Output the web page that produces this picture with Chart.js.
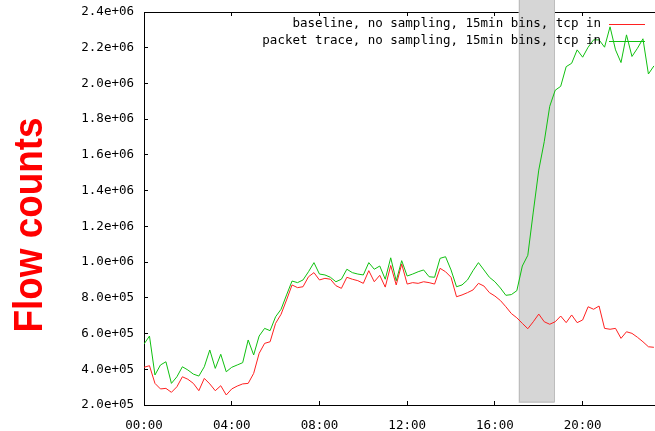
<!DOCTYPE html>
<html>
<head>
<meta charset="utf-8">
<script src="https://cdn.jsdelivr.net/npm/chart.js@4/dist/chart.umd.min.js"></script>
<style>
  html, body { margin: 0; padding: 0; background: #fff; }
  #flowChart { display: block; }
</style>
</head>
<body>
<canvas id="flowChart" width="655" height="431"></canvas>
<script>
// 15 minute bins, hour 0 = 00:00
const binHours = 0.25;

const baseline = [
  411, 420, 321, 290, 293, 271, 302, 358, 344, 321, 280, 349, 318, 280, 308, 256,
  290, 306, 318, 321, 377, 489, 545, 554, 657, 708, 788, 872, 857, 862, 918, 941,
  900, 909, 904, 868, 853, 915, 904, 896, 881, 952, 890, 926, 860, 981, 872, 989,
  877, 885, 881, 890, 885, 877, 965, 946, 915, 806, 816, 829, 844, 881, 866, 829,
  810, 785, 750, 712, 688, 657, 627, 666, 709, 666, 652, 666, 698, 661, 704, 661,
  676, 750, 736, 754, 629, 624, 629, 573, 610, 601, 579, 554, 526, 523
];

const packetTrace = [
  541, 586, 368, 424, 442, 321, 358, 414, 396, 373, 362, 414, 508, 405, 484, 386,
  411, 424, 437, 564, 480, 586, 629, 616, 694, 736, 816, 894, 885, 900, 946, 997,
  933, 928, 915, 890, 904, 960, 941, 933, 928, 997, 960, 978, 904, 1024, 895, 1008,
  922, 933, 946, 956, 918, 915, 1021, 1030, 956, 862, 872, 900, 952, 997, 956, 915,
  890, 855, 814, 818, 840, 978, 1038, 1280, 1515, 1674, 1872, 1962, 1984, 2094, 2113, 2188,
  2147, 2203, 2244, 2244, 2203, 2317, 2188, 2117, 2272, 2151, 2197, 2250, 2053, 2098
];

const seriesLabels = [
  'baseline, no sampling, 15min bins, tcp in',
  'packet trace, no sampling, 15min bins, tcp in'
];
const seriesColors = ['#ff2020', '#10c010'];

const xTickValues = [0, 4, 8, 12, 16, 20];
const xTickLabels = ['00:00', '04:00', '08:00', '12:00', '16:00', '20:00'];
const yTickValues = [200000, 400000, 600000, 800000, 1000000, 1200000,
  1400000, 1600000, 1800000, 2000000, 2200000, 2400000];
const yTickLabels = ['2.0e+05', '4.0e+05', '6.0e+05', '8.0e+05', '1.0e+06', '1.2e+06',
  '1.4e+06', '1.6e+06', '1.8e+06', '2.0e+06', '2.2e+06', '2.4e+06'];

const shadedHours = [17.08, 18.7];
const yTitle = 'Flow counts';

const monoFont = '"DejaVu Sans Mono", "Liberation Mono", monospace';

const toPoints = arr => arr.map((v, i) => ({ x: i * binHours, y: v * 1000 }));

// chart.js adds room for the outer tick labels, the reference has none
const noPad = s => { s.paddingTop = 0; s.paddingBottom = 0; s.paddingLeft = 0; s.paddingRight = 0; };

const bandPlugin = {
  id: 'band',
  beforeDatasetsDraw(chart) {
    const { ctx, chartArea, scales } = chart;
    const x0 = scales.x.getPixelForValue(shadedHours[0]);
    const x1 = scales.x.getPixelForValue(shadedHours[1]);
    ctx.save();
    ctx.fillStyle = '#d6d6d6';
    ctx.fillRect(x0, 0, x1 - x0, chartArea.bottom - 2);
    ctx.strokeStyle = '#bdbdbd';
    ctx.lineWidth = 1;
    ctx.strokeRect(Math.round(x0) + 0.5, -1, Math.round(x1 - x0) - 1, chartArea.bottom - 2);
    ctx.restore();
  }
};

const keyPlugin = {
  id: 'key',
  afterDraw(chart) {
    const { ctx } = chart;
    ctx.save();
    ctx.font = '12.5px ' + monoFont;
    ctx.textAlign = 'right';
    ctx.textBaseline = 'middle';
    chart.data.datasets.forEach((ds, i) => {
      const y = 24 + i * 16.5;
      ctx.fillStyle = '#000';
      ctx.fillText(ds.label, 601, y);
      ctx.strokeStyle = ds.borderColor;
      ctx.lineWidth = 1;
      ctx.beginPath();
      ctx.moveTo(609, Math.round(y) + 0.5);
      ctx.lineTo(645, Math.round(y) + 0.5);
      ctx.stroke();
    });
    ctx.restore();
  }
};

const titlePlugin = {
  id: 'ytitle',
  afterDraw(chart) {
    const { ctx } = chart;
    ctx.save();
    ctx.translate(42, 225);
    ctx.rotate(-Math.PI / 2);
    ctx.font = 'bold 40px "Liberation Sans", Arial, sans-serif';
    ctx.fillStyle = '#ff0000';
    ctx.textAlign = 'center';
    ctx.textBaseline = 'alphabetic';
    ctx.fillText(yTitle, 0, 0, 215);
    ctx.restore();
  }
};

const axisGrid = { drawOnChartArea: false, tickLength: -4, color: '#000', lineWidth: 1 };
const axisBorder = { color: '#000', width: 1 };

new Chart(document.getElementById('flowChart'), {
  type: 'line',
  data: {
    datasets: [
      { label: seriesLabels[0], data: toPoints(baseline), borderColor: seriesColors[0] },
      { label: seriesLabels[1], data: toPoints(packetTrace), borderColor: seriesColors[1] }
    ]
  },
  options: {
    responsive: false,
    animation: false,
    events: [],
    devicePixelRatio: 1,
    layout: { padding: 0 },
    elements: {
      line: { borderWidth: 1, tension: 0 },
      point: { radius: 0 }
    },
    plugins: { legend: { display: false }, tooltip: { enabled: false } },
    scales: {
      x: {
        type: 'linear', position: 'bottom', min: 0, max: 23.3,
        afterBuildTicks: s => { s.ticks = xTickValues.map(v => ({ value: v })); },
        afterFit: s => { s.height = 26; noPad(s); },
        ticks: {
          autoSkip: false, maxRotation: 0, padding: 17, color: '#000',
          font: { family: monoFont, size: 12.5 },
          callback: (v, i) => xTickLabels[i]
        },
        grid: axisGrid, border: axisBorder
      },
      x2: {
        type: 'linear', position: 'top', min: 0, max: 23.3,
        afterBuildTicks: s => { s.ticks = xTickValues.map(v => ({ value: v })); },
        afterFit: s => { s.height = 12; noPad(s); },
        ticks: { display: false },
        grid: axisGrid, border: axisBorder
      },
      y: {
        type: 'linear', position: 'left', min: 200000, max: 2400000,
        afterBuildTicks: s => { s.ticks = yTickValues.map(v => ({ value: v })); },
        afterFit: s => { s.width = 144; noPad(s); },
        ticks: {
          padding: 14, color: '#000',
          font: { family: monoFont, size: 12.5 },
          callback: (v, i) => yTickLabels[i]
        },
        grid: axisGrid, border: axisBorder
      }
    }
  },
  plugins: [bandPlugin, keyPlugin, titlePlugin]
});
</script>
</body>
</html>
